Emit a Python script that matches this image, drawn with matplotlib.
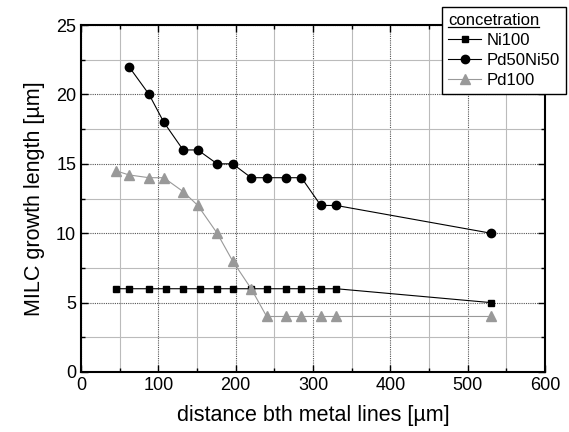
import matplotlib
matplotlib.use("Agg")
import matplotlib.pyplot as plt
from matplotlib.ticker import MultipleLocator
from matplotlib.lines import Line2D

plt.rcParams['font.family'] = ['Liberation Sans', 'DejaVu Sans']

ni_x = [45, 62, 88, 110, 132, 154, 176, 196, 220, 240, 265, 285, 310, 330, 530]
ni_y = [6, 6, 6, 6, 6, 6, 6, 6, 6, 6, 6, 6, 6, 6, 5]

pdni_x = [62, 88, 107, 132, 151, 176, 196, 220, 240, 265, 285, 310, 330, 530]
pdni_y = [22, 20, 18, 16, 16, 15, 15, 14, 14, 14, 14, 12, 12, 10]

pd_x = [45, 62, 88, 107, 132, 151, 176, 196, 220, 240, 265, 285, 310, 330, 530]
pd_y = [14.5, 14.2, 14, 14, 13, 12, 10, 8, 6, 4, 4, 4, 4, 4, 4]

fig = plt.figure(figsize=(5.69, 4.32), dpi=100)
ax = fig.add_axes([0.1424, 0.1389, 0.8156, 0.8031])

ax.set_xlim(0, 600)
ax.set_ylim(0, 25)
ax.xaxis.set_major_locator(MultipleLocator(100))
ax.xaxis.set_minor_locator(MultipleLocator(50))
ax.yaxis.set_major_locator(MultipleLocator(5))
ax.yaxis.set_minor_locator(MultipleLocator(2.5))

ax.grid(True, which='major', color='#555555', linestyle=(0, (1, 1)), linewidth=0.8)
ax.grid(True, which='minor', color='#bbbbbb', linestyle='-', linewidth=0.8)
ax.set_axisbelow(True)

ax.plot(ni_x, ni_y, color='black', marker='s', markersize=5, linewidth=0.8, label='Ni100', zorder=3)
ax.plot(pdni_x, pdni_y, color='black', marker='o', markersize=6, linewidth=0.8, label='Pd50Ni50', zorder=3)
ax.plot(pd_x, pd_y, color='#999999', marker='^', markersize=6.5, linewidth=0.8, label='Pd100', zorder=3)

ax.tick_params(which='both', direction='in', top=True, right=True, labelsize=13)
ax.tick_params(which='major', length=5, width=1)
ax.tick_params(which='minor', length=3, width=1)
for s in ax.spines.values():
    s.set_linewidth(1.5)

ax.set_xlabel('distance bth metal lines [µm]', fontsize=15.5, labelpad=8)
ax.set_ylabel('MILC growth length [µm]', fontsize=15.5, labelpad=8)

leg = ax.legend(loc='upper right', bbox_to_anchor=(1.062, 1.075), fontsize=12,
                title='concetration', title_fontsize=12, fancybox=False,
                edgecolor='black', framealpha=1, handlelength=2.0,
                borderpad=0.35, labelspacing=0.3, handletextpad=0.3)
leg.get_frame().set_linewidth(1.0)
leg._legend_box.align = 'left'
leg.set_zorder(10)

fig.canvas.draw()
r = fig.canvas.get_renderer()
bb = leg.get_title().get_window_extent(r)
W, H = fig.bbox.width, fig.bbox.height
y = (bb.y0 + 1) / H
fig.add_artist(Line2D([bb.x0 / W, bb.x1 / W], [y, y], color='black', linewidth=0.9,
                      transform=fig.transFigure, zorder=20))

fig.savefig('out.png', dpi=100)
